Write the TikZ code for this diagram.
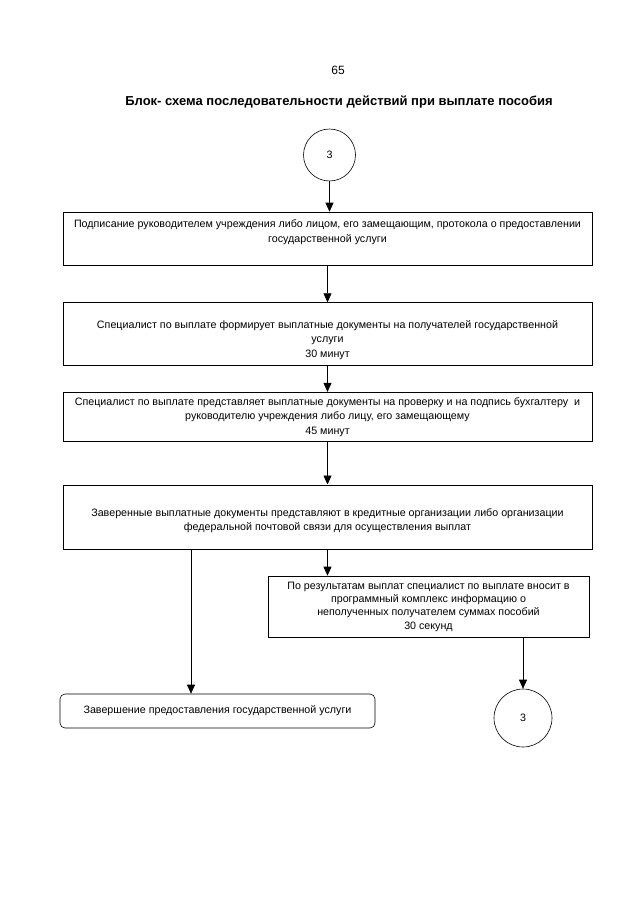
\documentclass[tikz,border=0pt]{standalone}
\usepackage{fontspec}
\setmainfont{Liberation Sans}
\usetikzlibrary{arrows.meta,positioning}

\tikzset{
  blok/.style={draw, line width=0.6pt, align=center, minimum width=529pt, inner sep=3pt},
  krug/.style={draw, circle, line width=0.6pt},
}

\begin{document}
\begin{tikzpicture}[x=1pt,y=1pt,->,>={Triangle[length=9pt,width=8pt]},
        line width=0.6pt, font=\fontsize{10.7}{14.5}\selectfont]

  \useasboundingbox (0,0) rectangle (640,-905);

  \node (num) at (338,-70) {\fontsize{12}{14}\selectfont 65};
  \node (title) at (339,-102) {\fontsize{13}{15}\selectfont\bfseries Блок- схема последовательности действий при выплате пособия};

  \node[krug, minimum size=52pt] (c3top) at (329.5,-155) {3};

  \node[blok, minimum height=53pt] (box1) at (327.5,-238.5)
    {Подписание руководителем учреждения либо лицом, его замещающим, протокола о предоставлении\\
     государственной услуги\\ \mbox{}};
  % text sits low in these two boxes
  \node[blok, minimum height=63pt] (box2) [below=37pt of box1]
    {\rule{0pt}{20pt}Специалист по выплате формирует выплатные документы на получателей государственной\\
     услуги\\ 30 минут};
  \node[blok, minimum height=49pt] (box3) [below=26pt of box2]
    {Специалист по выплате представляет выплатные документы на проверку и на подпись бухгалтеру\ \ и\\
     руководителю учреждения либо лицу, его замещающему\\ 45 минут};
  \node[blok, minimum height=64pt] (box4) [below=43pt of box3]
    {\rule{0pt}{16pt}Заверенные выплатные документы представляют в кредитные организации либо организации\\
     федеральной почтовой связи для осуществления выплат};
  \node[blok, minimum width=321pt, minimum height=61pt, font=\fontsize{10.7}{13.3}\selectfont] (box5) at (428.5,-606.5)
    {По результатам выплат специалист по выплате вносит в\\
     программный комплекс информацию о\\
     неполученных получателем суммах пособий\\ 30 секунд};
  \node[blok, rounded corners=5pt, minimum width=315pt, minimum height=34pt] (done) at (217.5,-711)
    {Завершение предоставления государственной услуги};
  \node[krug, minimum size=58pt] (c3bot) at (523,-718) {3};

  \coordinate (lftarr) at ([xshift=-136.5pt]box4.south);

  \draw (c3top) -- (c3top |- box1.north);
  \draw (box1) -- (box2);
  \draw (box2) -- (box3);
  \draw (box3) -- (box4);
  \draw (box4) -- (box4 |- box5.north);
  \draw (lftarr) -- (lftarr |- done.north);
  \draw (c3bot |- box5.south) -- (c3bot);

\end{tikzpicture}
\end{document}
